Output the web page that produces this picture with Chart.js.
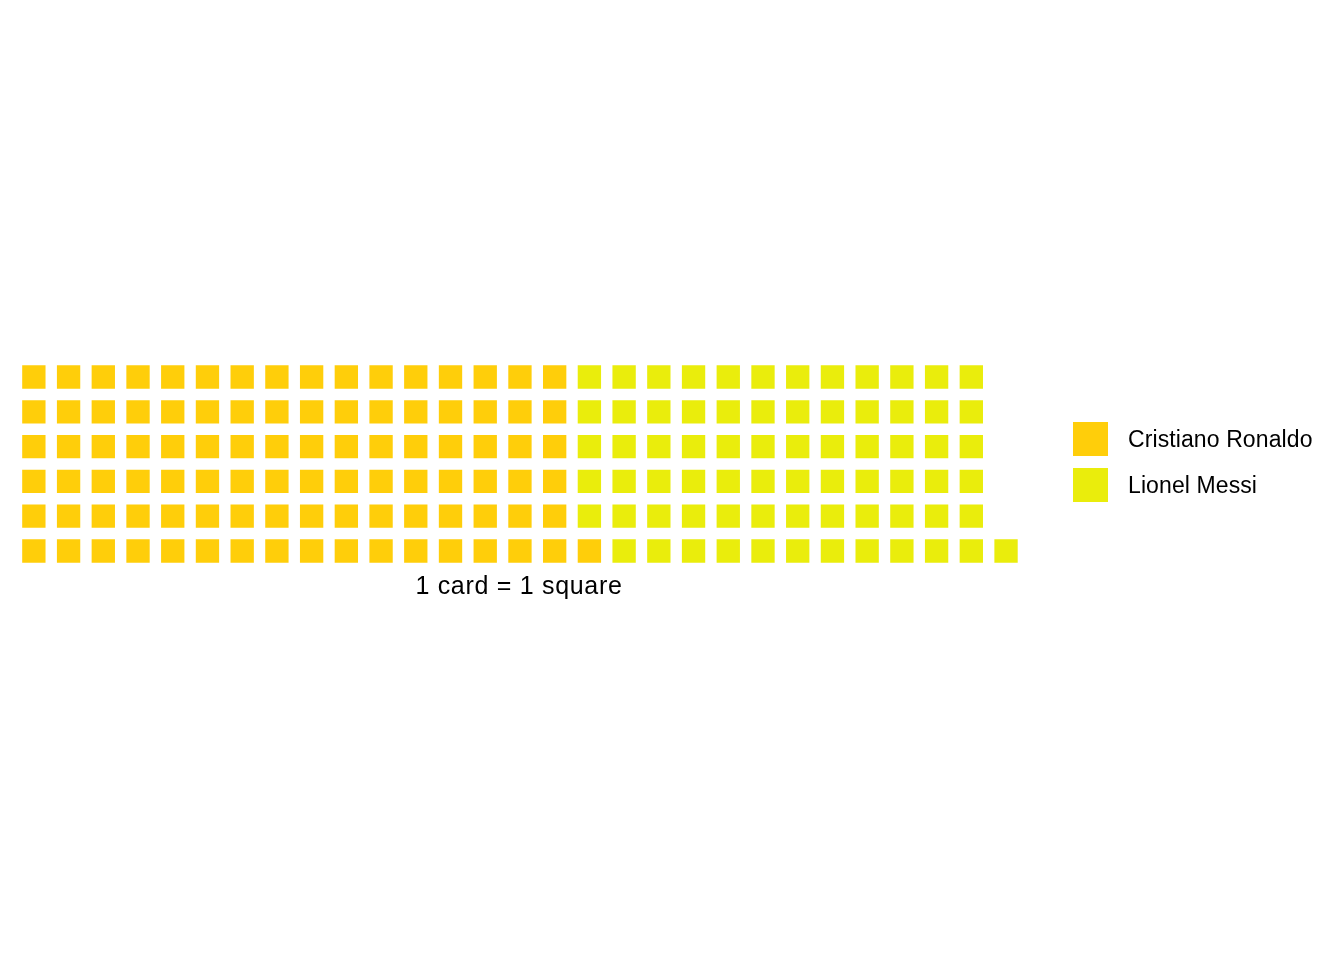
<!DOCTYPE html>
<html>
<head>
<meta charset="utf-8">
<script src="https://cdn.jsdelivr.net/npm/chart.js@4"></script>
<style>
  html, body { margin: 0; padding: 0; background: #ffffff; }
  #wrap { position: relative; width: 1344px; height: 960px; }
  canvas { position: absolute; left: 0; top: 0; }
  .legend { position: absolute; left: 1073px; top: 422px; font-family: "Liberation Sans", Arial, sans-serif; font-size: 23px; color: #000; }
  .item { position: absolute; left: 0; width: 270px; height: 34px; }
  .swatch { position: absolute; left: 0; top: 0; width: 35px; height: 34px; }
  .label { position: absolute; left: 55px; top: 0; line-height: 34px; white-space: nowrap; letter-spacing: 0.1px; }
  .caption { position: absolute; left: 269px; width: 500px; top: 570px; line-height: 30px; text-align: center; font-family: "Liberation Sans", Arial, sans-serif; font-size: 25px; letter-spacing: 0.7px; color: #000; }
</style>
</head>
<body>
<div id="wrap">
  <canvas id="c" width="1344" height="960"></canvas>
  <div class="legend" id="legend"></div>
  <div class="caption" id="caption"></div>
</div>
<script>
// ---- data ----
const categories = ["Cristiano Ronaldo", "Lionel Messi"];
const cardCounts = [97, 72];
const colors = ["#FFCE0A", "#EAED0C"];
const rowsPerColumn = 6;
const captionText = "1 card = 1 square";

// build waffle cells (column-wise, bottom to top)
const datasets = [];
let idx = 0;
categories.forEach((cat, i) => {
  const pts = [];
  for (let k = 0; k < cardCounts[i]; k++) {
    const col = Math.floor(idx / rowsPerColumn) + 1;
    const row = (idx % rowsPerColumn) + 1;
    pts.push({ x: col, y: row });
    idx++;
  }
  datasets.push({
    label: cat,
    data: pts,
    backgroundColor: colors[i],
    borderWidth: 0,
    pointStyle: "rect",
    pointRadius: 16.5,
    pointHoverRadius: 16.5
  });
});

new Chart(document.getElementById("c"), {
  type: "scatter",
  data: { datasets },
  options: {
    responsive: false,
    animation: false,
    events: [],
    layout: { padding: { left: 12.3, right: 1344 - 1023.4, top: 359.6, bottom: 960 - 568.4 } },
    plugins: { legend: { display: false }, tooltip: { enabled: false } },
    scales: {
      x: { type: "linear", min: 0.5, max: 29.5, display: false },
      y: { type: "linear", min: 0.5, max: 6.5, display: false }
    }
  }
});

// legend & caption
const lg = document.getElementById("legend");
categories.forEach((cat, i) => {
  const it = document.createElement("div");
  it.className = "item";
  it.style.top = (i * 46) + "px";
  it.innerHTML = '<div class="swatch" style="background:' + colors[i] + '"></div><div class="label">' + cat + '</div>';
  lg.appendChild(it);
});
document.getElementById("caption").textContent = captionText;
</script>
</body>
</html>
